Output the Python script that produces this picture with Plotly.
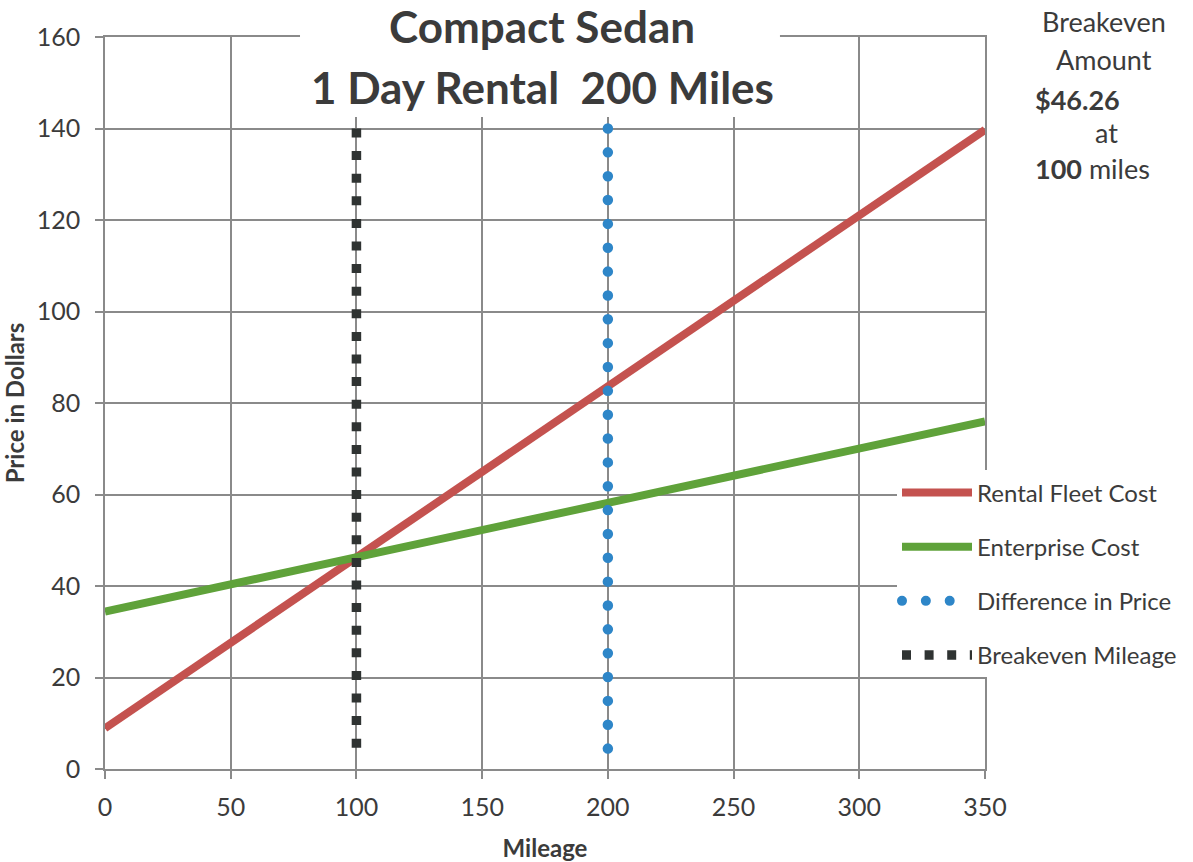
import plotly.graph_objects as go

# Mileage points and daily cost for each rental option
mileage = [0, 50, 100, 150, 200, 250, 300, 350]
rental_fleet_cost = [8.9, 27.6, 46.26, 64.9, 83.6, 102.3, 121.0, 139.7]
enterprise_cost = [34.4, 40.3, 46.26, 52.2, 58.1, 64.1, 70.0, 76.0]

# Vertical reference series
difference_x = [200, 200]
difference_y = [140, 3.8]
breakeven_x = [100, 100]
breakeven_y = [140, 4.3]

x_ticks = [0, 50, 100, 150, 200, 250, 300, 350]
y_ticks = [0, 20, 40, 60, 80, 100, 120, 140, 160]

FONT = "Lato"
TEXT = "#3b3b3b"
GRID = "#8a8a8a"
BLUE = "rgb(46, 134, 200)"

fig = go.Figure()
fig.add_trace(go.Scatter(x=mileage, y=rental_fleet_cost, mode="lines",
                         name="Rental Fleet Cost", legendgroup="a",
                         line=dict(color="#c4524f", width=8)))
fig.add_trace(go.Scatter(x=mileage, y=enterprise_cost, mode="lines",
                         name="Enterprise Cost", legendgroup="b",
                         line=dict(color="#5fa23a", width=8)))
fig.add_trace(go.Scatter(x=difference_x, y=difference_y, mode="lines",
                         name="Difference in Price", legendgroup="c",
                         line=dict(color=BLUE, width=10.5, dash="0px,23.85px")))
fig.add_trace(go.Scatter(x=breakeven_x, y=breakeven_y, mode="lines",
                         name="Breakeven Mileage", legendgroup="d",
                         line=dict(color="#2f3332", width=9.5, dash="9px,13.6px")))

axis_common = dict(showgrid=True, gridcolor=GRID, gridwidth=1.5,
                   showline=True, mirror=True, linecolor=GRID, linewidth=1.5,
                   ticks="outside", ticklen=8, tickwidth=1.5, tickcolor=GRID,
                   zeroline=False, automargin=False,
                   tickfont=dict(family=FONT, size=25, color=TEXT))

fig.update_xaxes(range=[0, 350], tickvals=x_ticks, ticklabelstandoff=7,
                 title=dict(text="<b>Mileage</b>", standoff=20,
                            font=dict(family=FONT, size=24, color=TEXT)),
                 **axis_common)
fig.update_yaxes(range=[0, 160], tickvals=y_ticks, ticklabelstandoff=10,
                 title=dict(text="<b>Price in Dollars</b>", standoff=8,
                            font=dict(family=FONT, size=24, color=TEXT)),
                 **axis_common)

# Title panel sits over the top of the grid
fig.add_shape(type="rect", xref="paper", yref="paper",
              x0=0.2216, x1=0.767, y0=0.8907, y1=1.1,
              fillcolor="white", line=dict(width=0), layer="above")

notes = [
    dict(text="<b>Compact Sedan</b>", x=0.4966, y=1.015, size=44, xanchor="center"),
    dict(text="<b>1 Day Rental\u00a0 200 Miles</b>", x=0.4966, y=0.932, size=44, xanchor="center"),
    dict(text="Breakeven", x=1.135, y=1.0205, size=27, xanchor="center"),
    dict(text="Amount", x=1.135, y=0.9686, size=27, xanchor="center"),
    dict(text="<b>$46.26</b>", x=1.0545, y=0.9153, size=27, xanchor="left"),
    dict(text="at", x=1.1386, y=0.8689, size=27, xanchor="center"),
    dict(text="<b>100</b> miles", x=1.0545, y=0.8197, size=27, xanchor="left"),
]
for n in notes:
    fig.add_annotation(text=n["text"], x=n["x"], y=n["y"], xref="paper", yref="paper",
                       xanchor=n["xanchor"], yanchor="middle", showarrow=False,
                       font=dict(family=FONT, size=n["size"], color=TEXT))

fig.update_layout(
    width=1193, height=862,
    margin=dict(l=105, r=208, t=37, b=93, autoexpand=False),
    paper_bgcolor="white", plot_bgcolor="white",
    hovermode=False,
    legend=dict(x=0.9, y=0.408, xanchor="left", yanchor="top",
                bgcolor="white", itemwidth=70, tracegroupgap=20,
                font=dict(family=FONT, size=24, color=TEXT)),
)

# Round the dash caps so the difference series reads as dots
post = """
document.querySelectorAll('path').forEach(function(p){
  if (p.style.stroke === '%s') { p.style.strokeLinecap = 'round'; }
});
""" % BLUE

fig.write_html("out.html", post_script=post)
